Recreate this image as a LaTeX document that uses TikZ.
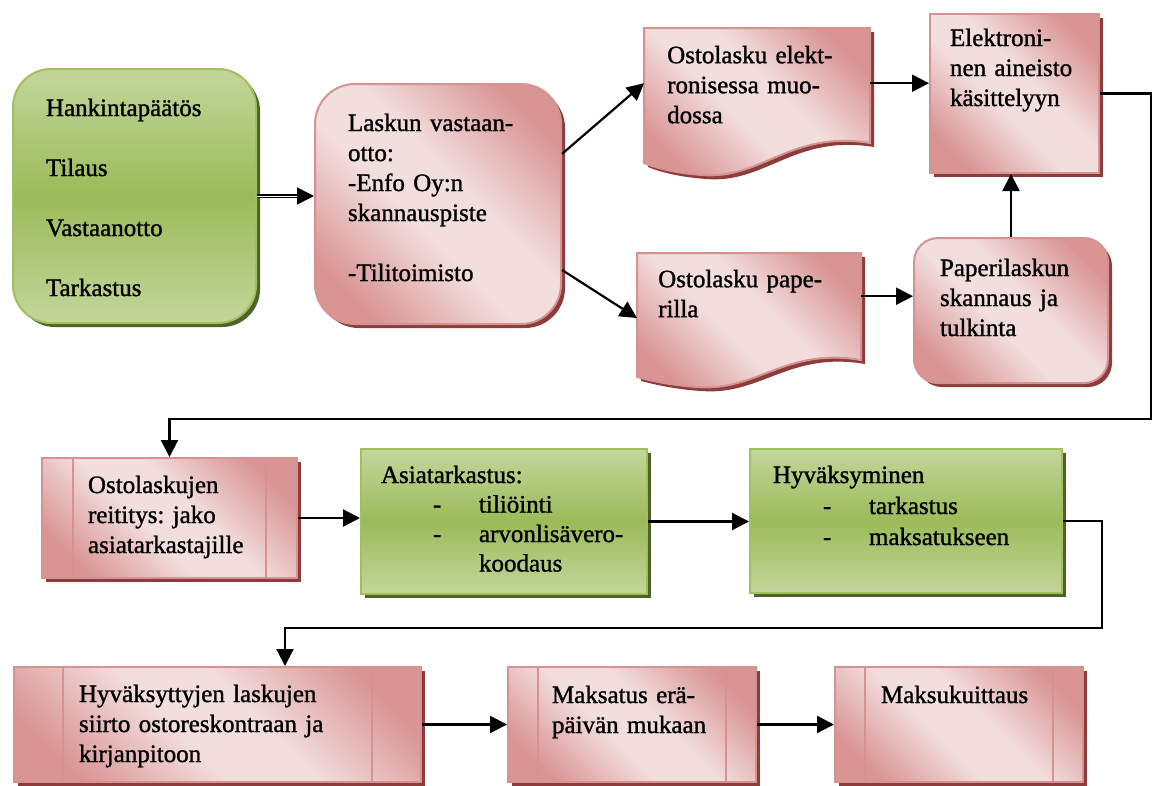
\documentclass[tikz,border=0pt]{standalone}
\usepackage{fontspec}
\setmainfont{Liberation Serif}
\newfontfamily\boxfont{Liberation Serif}[FakeBold=1.2]
\usetikzlibrary{arrows.meta,shadows}
\definecolor{pinkdark}{RGB}{217,149,148}
\definecolor{pinklight}{RGB}{243,222,222}
\definecolor{pinkline}{RGB}{214,146,145}
\definecolor{pinkshadow}{RGB}{140,60,58}
\definecolor{greenlight}{RGB}{195,214,155}
\definecolor{greenmid}{RGB}{155,187,89}
\definecolor{greenline}{RGB}{160,192,95}
\definecolor{greenshadow}{RGB}{79,98,40}
\pgfdeclarehorizontalshading{pinkglow}{100bp}{color(0bp)=(pinkdark); color(24bp)=(pinkdark); color(44bp)=(pinklight); color(56bp)=(pinklight); color(76bp)=(pinkdark); color(100bp)=(pinkdark)}

\tikzset{
  pinkbox/.style={draw=pinkline, line width=2pt, shade, shading=pinkglow, shading angle=45,
    drop shadow={shadow xshift=4pt, shadow yshift=-4pt, fill=pinkshadow, opacity=1}},
  greenbox/.style={draw=greenline, line width=2pt, top color=greenlight, bottom color=greenlight, middle color=greenmid,
    drop shadow={shadow xshift=4pt, shadow yshift=-4pt, fill=greenshadow, opacity=1}},
  predef/.style={pinkbox, path picture={
    \draw[pinkline, line width=2pt] ([xshift=#1]path picture bounding box.north west) -- ([xshift=#1]path picture bounding box.south west);
    \draw[pinkline, line width=2pt] ([xshift=-#1]path picture bounding box.north east) -- ([xshift=-#1]path picture bounding box.south east);}},
  txt/.style={anchor=north west, inner ysep=0pt, align=left, font=\boxfont\fontsize{25}{30}\selectfont\frenchspacing},
  flow/.style={line width=2.2pt, -{Triangle[length=17pt,width=17pt]}}
}

\begin{document}
\begin{tikzpicture}[x=1pt, y=-1pt]
\useasboundingbox (0,0) rectangle (1158,785);
% top row
\node[greenbox, txt, rounded corners=38pt, inner xsep=33pt, text width=177pt, text height=47pt, text depth=207pt] (hank) at (12,68) {Hankintapäätös\\[30pt]Tilaus\\[30pt]Vastaanotto\\[30pt]Tarkastus};
\node[pinkbox, txt, rounded corners=40pt, inner xsep=33pt, text width=180pt, text height=47pt, text depth=193pt] (lasku) at (314,83) {Laskun vastaan-\\otto:\\-Enfo Oy:n\\skannauspiste\\[30pt]-Tilitoimisto};
\draw[pinkbox] (644,28) -- (870,28) -- (870,143) .. controls (790,130) and (762,180) .. (702,175) .. controls (675,173) and (656,168) .. (644,163) -- cycle;
\node[txt, inner xsep=23pt, text width=180pt, text height=35pt, text depth=75pt] (elmuoto) at (644,28) {Ostolasku elekt-\\ronisessa muo-\\dossa};
\node[pinkbox, txt, inner xsep=20pt, text width=129pt, text height=32pt, text depth=127pt] (aineisto) at (929,13) {Elektroni-\\nen aineisto\\käsittelyyn};
\draw[pinkbox] (637,253) -- (861,253) -- (861,360) .. controls (785,347) and (757,392) .. (697,387) .. controls (668,385) and (649,380) .. (637,377) -- cycle;
\node[txt, inner xsep=21pt, text width=182pt, text height=34pt, text depth=52pt] (paperi) at (637,253) {Ostolasku pape-\\rilla};
\node[pinkbox, txt, rounded corners=24pt, inner xsep=26pt, text width=142pt, text height=38pt, text depth=107pt] (skannaus) at (913,237) {Paperilaskun\\skannaus ja\\tulkinta};
% middle row
\node[predef=31pt, txt, inner xsep=46pt, text width=163pt, text height=35pt, text depth=85pt] (reititys) at (41,457) {Ostolaskujen\\reititys: jako\\asiatarkastajille};
\node[greenbox, txt, inner xsep=20pt, text width=246pt, text height=34pt, text depth=111pt, font=\boxfont\fontsize{25}{29.5}\selectfont] (asia) at (360,448) {Asiatarkastus:\\\hspace*{52pt}\makebox[46pt][l]{-}tiliöinti\\\hspace*{52pt}\makebox[46pt][l]{-}arvonlisävero-\\\hspace*{98pt}koodaus};
\node[greenbox, txt, inner xsep=23pt, text width=266pt, text height=34pt, text depth=110pt, font=\boxfont\fontsize{25}{31}\selectfont] (hyvaks) at (749,448) {Hyväksyminen\\\hspace*{50pt}\makebox[46pt][l]{-}tarkastus\\\hspace*{50pt}\makebox[46pt][l]{-}maksatukseen};
% bottom row
\node[predef=49pt, txt, inner xsep=65pt, text width=277pt, text height=35pt, text depth=80pt] (siirto) at (13,666) {Hyväksyttyjen laskujen\\siirto ostoreskontraan ja\\kirjanpitoon};
\node[predef=30pt, txt, inner xsep=44pt, text width=160pt, text height=36pt, text depth=79pt] (maksatus) at (507,666) {Maksatus erä-\\päivän mukaan};
\node[predef=30pt, txt, inner xsep=46pt, text width=156pt, text height=36pt, text depth=79pt] (kuittaus) at (834,666) {Maksukuittaus};
% connectors
\draw[line width=1.6pt, double, double distance=0.8pt, -{Triangle[length=17pt,width=17pt]}] (hank.east) -- (hank.east -| lasku.west);
\draw[flow] (lasku.22) -- (elmuoto.west);
\draw[flow] (lasku.-28) -- (paperi.191);
\draw[flow] (elmuoto.east) -- (elmuoto.east -| aineisto.west);
\draw[flow] (paperi.east) -- (paperi.east -| skannaus.west);
\draw[flow] (skannaus.north) -- (skannaus.north |- aineisto.south);
\coordinate (kaari1) at (1151,419);
\draw[flow] (aineisto.east) -| (kaari1) -| (reititys.north);
\draw[flow] (reititys.east) -- (reititys.east -| asia.west);
\draw[flow] (asia.east) -- (asia.east -| hyvaks.west);
\coordinate (kaari2) at (1102,628);
\coordinate (kaari3) at (285,628);
\draw[flow] (hyvaks.east) -| (kaari2) -- (kaari3) -- (kaari3 |- siirto.north);
\draw[flow] (siirto.east) -- (siirto.east -| maksatus.west);
\draw[flow] (maksatus.east) -- (maksatus.east -| kuittaus.west);
\end{tikzpicture}
\end{document}
